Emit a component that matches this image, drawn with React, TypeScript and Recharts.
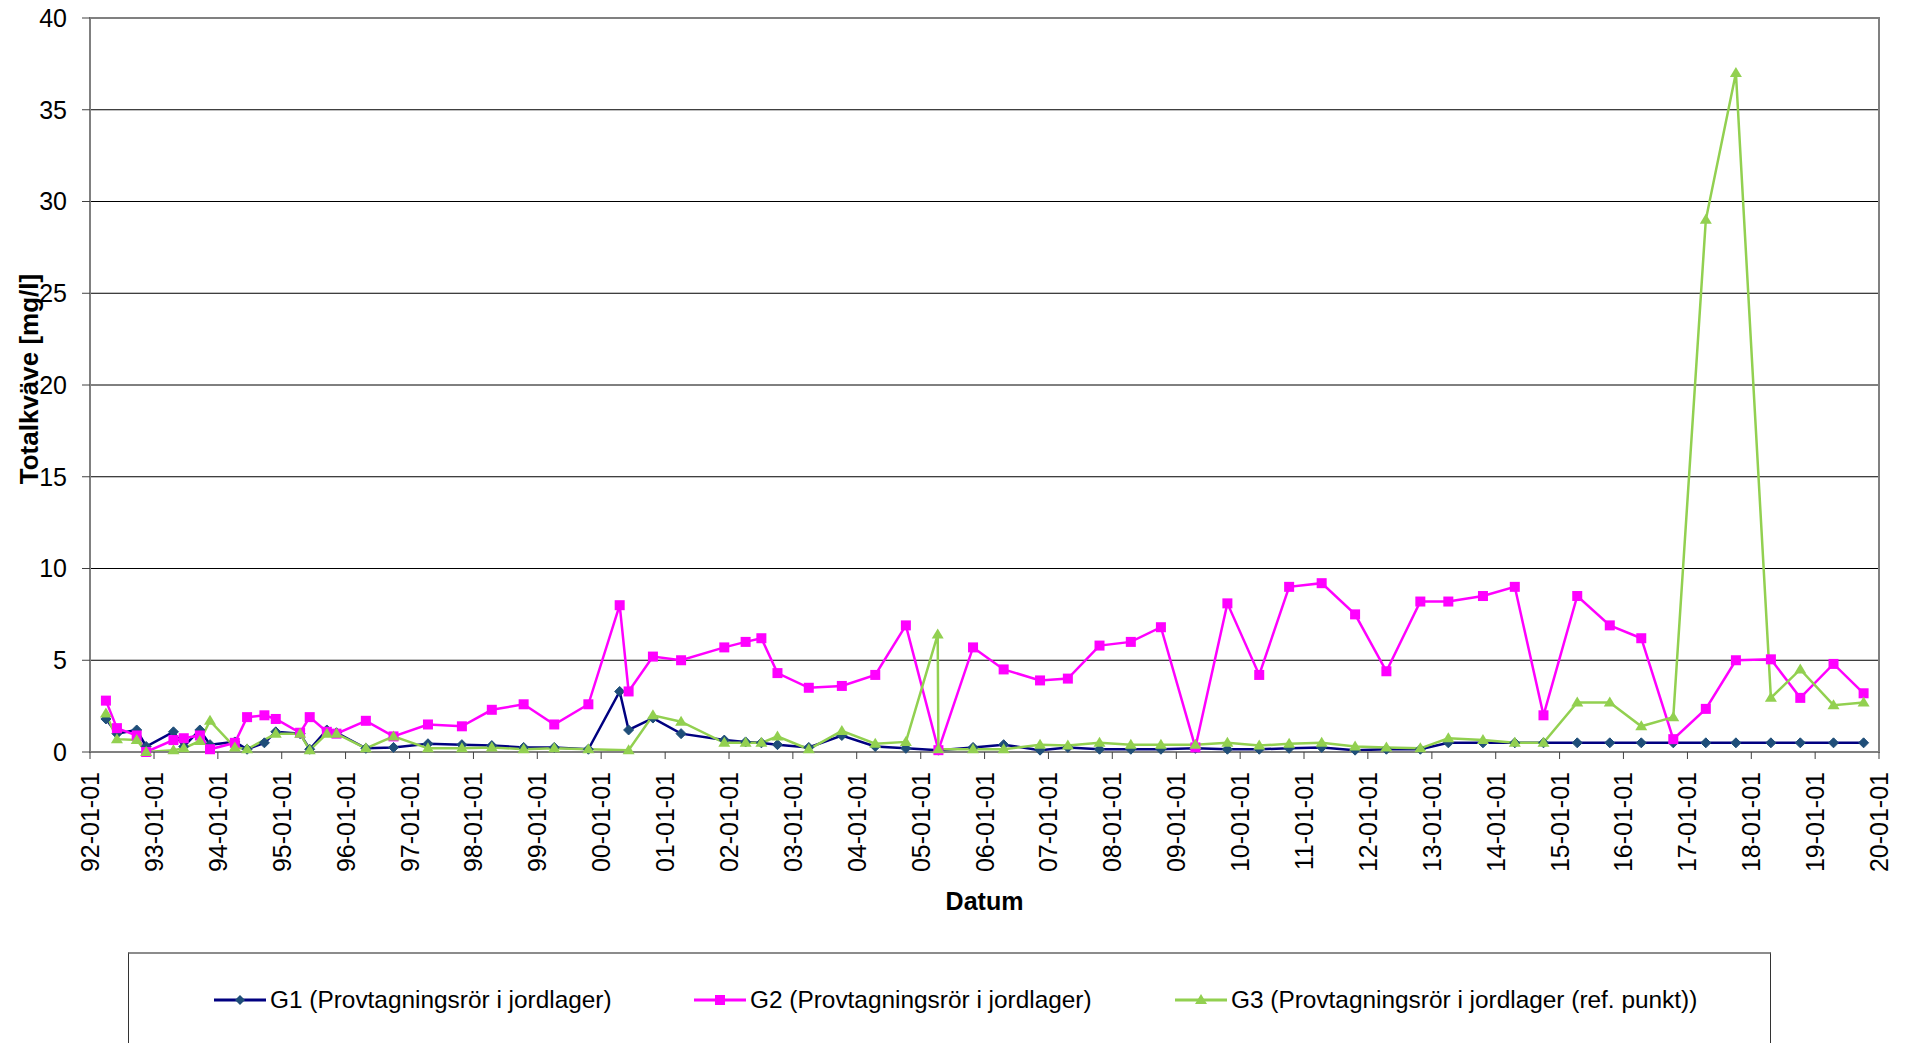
import React from 'react';
import { LineChart, Line, XAxis, YAxis, CartesianGrid, ReferenceArea } from 'recharts';

// provtagningsdatum (samma datum för alla rör)
const sampleDates = [
  '1992-04-01', '1992-06-03', '1992-09-24', '1992-11-17', '1993-04-22', '1993-06-20',
  '1993-09-20', '1993-11-17', '1994-04-08', '1994-06-17', '1994-09-24', '1994-11-28',
  '1995-04-16', '1995-06-10', '1995-09-16', '1995-11-10', '1996-04-26', '1996-10-01',
  '1997-04-16', '1997-10-27', '1998-04-16', '1998-10-15', '1999-04-08', '1999-10-20',
  '2000-04-16', '2000-06-06', '2000-10-23', '2001-04-02', '2001-12-05', '2002-04-06',
  '2002-07-05', '2002-10-05', '2003-04-02', '2003-10-08', '2004-04-16', '2004-10-08',
  '2005-04-08', '2005-04-12', '2005-10-27', '2006-04-20', '2006-11-14', '2007-04-22',
  '2007-10-20', '2008-04-16', '2008-10-05', '2009-04-20', '2009-10-20', '2010-04-20',
  '2010-10-08', '2011-04-12', '2011-10-20', '2012-04-16', '2012-10-27', '2013-04-05',
  '2013-10-20', '2014-04-20', '2014-10-01', '2015-04-12', '2015-10-15', '2016-04-12',
  '2016-10-12', '2017-04-16', '2017-10-05', '2018-04-23', '2018-10-08', '2019-04-16',
  '2019-10-05',
];

const g1Values: (number | null)[] = [
  1.8, 1.0, 1.2, 0.3, 1.1, 0.3,
  1.2, 0.4, 0.55, 0.15, 0.5, 1.1,
  1.0, 0.15, 1.2, 1.05, 0.2, 0.25,
  0.45, 0.4, 0.35, 0.25, 0.25, 0.15,
  3.3, 1.2, 1.85, 1.0, 0.65, 0.55,
  0.5, 0.4, 0.25, 0.9, 0.3, 0.2,
  null, 0.1, 0.25, 0.4, 0.1, 0.25,
  0.15, 0.15, 0.15, 0.2, 0.15, 0.15,
  0.2, 0.25, 0.1, 0.15, 0.15, 0.5,
  0.5, 0.5, 0.5, 0.5, 0.5, 0.5,
  0.5, 0.5, 0.5, 0.5, 0.5, 0.5,
  0.5,
];

const g2Values: (number | null)[] = [
  2.8, 1.3, 0.9, 0.0, 0.65, 0.75,
  0.9, 0.15, 0.5, 1.9, 2.0, 1.8,
  1.05, 1.9, 1.1, 1.0, 1.7, 0.85,
  1.5, 1.4, 2.3, 2.6, 1.5, 2.6,
  8.0, 3.3, 5.2, 5.0, 5.7, 6.0,
  6.2, 4.3, 3.5, 3.6, 4.2, 6.9,
  null, 0.1, 5.7, 4.5, 3.9, 4.0,
  5.8, 6.0, 6.8, 0.25, 8.1, 4.2,
  9.0, 9.2, 7.5, 4.4, 8.2, 8.2,
  8.5, 9.0, 2.0, 8.5, 6.9, 6.2,
  0.7, 2.35, 5.0, 5.05, 2.95, 4.8,
  3.2,
];

const g3Values: (number | null)[] = [
  2.1, 0.7, 0.65, 0.0, 0.1, 0.2,
  0.6, 1.7, 0.25, 0.15, null, 1.0,
  1.0, 0.1, 1.0, 1.0, 0.2, 0.85,
  0.2, 0.2, 0.25, 0.15, 0.2, 0.15,
  null, 0.1, 2.0, 1.65, 0.5, 0.5,
  0.5, 0.85, 0.15, 1.15, 0.45, 0.55,
  6.4, 0.15, 0.15, 0.15, 0.4, 0.35,
  0.5, 0.4, 0.4, 0.4, 0.5, 0.35,
  0.45, 0.5, 0.3, 0.25, 0.2, 0.75,
  0.65, 0.5, 0.5, 2.7, 2.7, 1.4,
  1.9, 29.0, 37.0, 2.95, 4.5, 2.55,
  2.7,
];

const tickDates = [
  '1992-01-01', '1993-01-01', '1994-01-01', '1995-01-01', '1996-01-01', '1997-01-01',
  '1998-01-01', '1999-01-01', '2000-01-01', '2001-01-01', '2002-01-01', '2003-01-01',
  '2004-01-01', '2005-01-01', '2006-01-01', '2007-01-01', '2008-01-01', '2009-01-01',
  '2010-01-01', '2011-01-01', '2012-01-01', '2013-01-01', '2014-01-01', '2015-01-01',
  '2016-01-01', '2017-01-01', '2018-01-01', '2019-01-01', '2020-01-01',
];

const yTicks = [0, 5, 10, 15, 20, 25, 30, 35, 40];

const seriesNames = [
  'G1 (Provtagningsrör i jordlager)',
  'G2 (Provtagningsrör i jordlager)',
  'G3 (Provtagningsrör i jordlager (ref. punkt))',
];

const FONT = '"Liberation Sans", Arial, sans-serif';
const G1_LINE = '#000080';
const G1_DOT = '#1F4E79';
const G2_COLOR = '#FF00FF';
const G3_COLOR = '#92D050';

const rows = sampleDates.map((d, i) => ({
  t: Date.parse(d),
  g1: g1Values[i],
  g2: g2Values[i],
  g3: g3Values[i],
}));

const xTicks = tickDates.map((d) => Date.parse(d));
const xDomain = [xTicks[0], xTicks[xTicks.length - 1]];

const fmtDate = (v: number) => {
  const d = new Date(v);
  const yy = String(d.getUTCFullYear() % 100).padStart(2, '0');
  const mm = String(d.getUTCMonth() + 1).padStart(2, '0');
  const dd = String(d.getUTCDate()).padStart(2, '0');
  return `${yy}-${mm}-${dd}`;
};

const DateTick = (props: any) => {
  const { x, y, payload } = props;
  return (
    <text
      x={x}
      y={y}
      transform={`rotate(-90 ${x} ${y})`}
      textAnchor="end"
      dominantBaseline="central"
      fontSize={25}
      fontFamily={FONT}
      fill="#000"
    >
      {fmtDate(payload.value)}
    </text>
  );
};

const diamond = (props: any) => {
  const { cx, cy, index } = props;
  if (cx == null || cy == null) return <g key={`g1-${index}`} />;
  const r = 5;
  return (
    <polygon
      key={`g1-${index}`}
      points={`${cx},${cy - r} ${cx + r},${cy} ${cx},${cy + r} ${cx - r},${cy}`}
      fill={G1_DOT}
      stroke={G1_DOT}
    />
  );
};

const square = (props: any) => {
  const { cx, cy, index } = props;
  if (cx == null || cy == null) return <g key={`g2-${index}`} />;
  const s = 10;
  return <rect key={`g2-${index}`} x={cx - s / 2} y={cy - s / 2} width={s} height={s} fill={G2_COLOR} />;
};

const triangle = (props: any) => {
  const { cx, cy, index } = props;
  if (cx == null || cy == null) return <g key={`g3-${index}`} />;
  const w = 6;
  return (
    <polygon
      key={`g3-${index}`}
      points={`${cx},${cy - 6} ${cx + w},${cy + 4} ${cx - w},${cy + 4}`}
      fill={G3_COLOR}
    />
  );
};

const LegendIcon = ({ kind }: { kind: number }) => {
  const colors = [G1_LINE, G2_COLOR, G3_COLOR];
  return (
    <svg width={52} height={20} style={{ display: 'block', marginRight: 4 }}>
      <line x1={0} y1={10} x2={52} y2={10} stroke={colors[kind]} strokeWidth={3} />
      {kind === 0 && <polygon points="26,5 31,10 26,15 21,10" fill={G1_DOT} />}
      {kind === 1 && <rect x={21} y={5} width={10} height={10} fill={G2_COLOR} />}
      {kind === 2 && <polygon points="26,4 32,14 20,14" fill={G3_COLOR} />}
    </svg>
  );
};

const legendLefts = [213, 693, 1174];

export default function App() {
  return (
    <div
      style={{
        position: 'absolute',
        left: 0,
        top: 0,
        width: 1907,
        height: 1043,
        overflow: 'hidden',
        background: '#fff',
        fontFamily: FONT,
      }}
    >
      <LineChart width={1907} height={1043} data={rows} margin={{ top: 18, right: 28, left: 0, bottom: 0 }}>
        <CartesianGrid vertical={false} stroke="#000" strokeWidth={1} />
        <XAxis
          dataKey="t"
          type="number"
          domain={xDomain}
          ticks={xTicks}
          interval={0}
          height={291}
          tick={<DateTick />}
          tickSize={7}
          tickMargin={13}
          axisLine={{ stroke: '#808080', strokeWidth: 2 }}
          tickLine={{ stroke: '#404040' }}
          label={{
            content: (p: any) => (
              <text
                x={p.viewBox.x + p.viewBox.width / 2}
                y={901}
                textAnchor="middle"
                dominantBaseline="central"
                fontSize={25}
                fontWeight="bold"
                fontFamily={FONT}
                fill="#000"
              >
                Datum
              </text>
            ),
          }}
        />
        <YAxis
          domain={[0, 40]}
          ticks={yTicks}
          width={90}
          tickSize={8}
          tickMargin={15}
          tick={{ fontSize: 25, fill: '#000', fontFamily: FONT }}
          axisLine={{ stroke: '#808080', strokeWidth: 2 }}
          tickLine={{ stroke: '#404040' }}
          label={{
            content: () => (
              <text
                x={29}
                y={379}
                transform="rotate(-90 29 379)"
                textAnchor="middle"
                dominantBaseline="central"
                fontSize={26}
                fontWeight="bold"
                fontFamily={FONT}
                fill="#000"
              >
                Totalkväve [mg/l]
              </text>
            ),
          }}
        />
        <ReferenceArea x1={xDomain[0]} x2={xDomain[1]} y1={0} y2={40} fill="none" stroke="#808080" strokeWidth={2} />
        <Line
          dataKey="g1"
          name={seriesNames[0]}
          stroke={G1_LINE}
          strokeWidth={2.5}
          dot={diamond}
          connectNulls
          isAnimationActive={false}
        />
        <Line
          dataKey="g2"
          name={seriesNames[1]}
          stroke={G2_COLOR}
          strokeWidth={2.5}
          dot={square}
          connectNulls
          isAnimationActive={false}
        />
        <Line
          dataKey="g3"
          name={seriesNames[2]}
          stroke={G3_COLOR}
          strokeWidth={2.5}
          dot={triangle}
          connectNulls
          isAnimationActive={false}
        />
      </LineChart>
      <div
        style={{
          position: 'absolute',
          left: 128,
          top: 952,
          width: 1643,
          height: 130,
          borderTop: '2px solid #8c8c8c',
          borderLeft: '1px solid #333',
          borderRight: '1px solid #333',
          boxSizing: 'border-box',
        }}
      >
        {seriesNames.map((n, i) => (
          <div
            key={n}
            style={{
              position: 'absolute',
              left: legendLefts[i] - 128,
              top: 32,
              display: 'flex',
              alignItems: 'center',
              fontSize: 24.4,
              whiteSpace: 'nowrap',
              color: '#000',
            }}
          >
            <LegendIcon kind={i} />
            <span>{n}</span>
          </div>
        ))}
      </div>
    </div>
  );
}
